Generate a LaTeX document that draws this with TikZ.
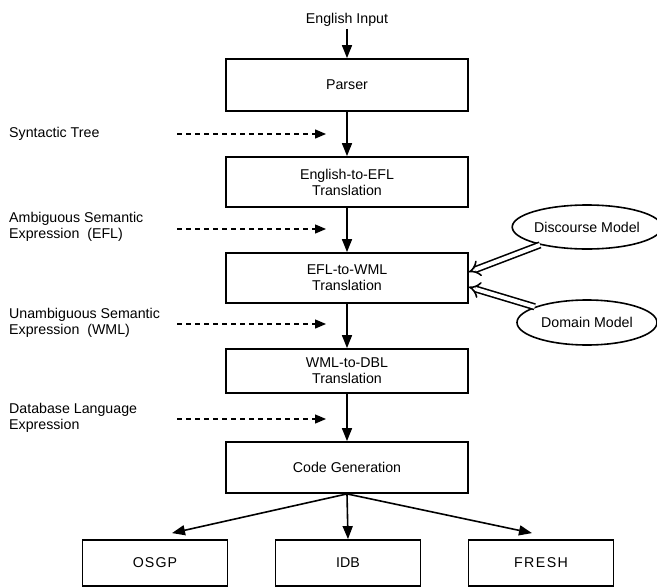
\documentclass[tikz,border=0pt]{standalone}
\usepackage{fontspec}
\setmainfont{Liberation Sans}
\usetikzlibrary{arrows.meta,shapes.geometric}
\begin{document}
\begin{tikzpicture}[x=1pt,y=-1pt,
  font=\fontsize{14.2}{16}\selectfont,
  box/.style={draw,line width=1.8pt,minimum width=242pt,align=center,inner sep=0pt},
  outbox/.style={draw,line width=1.8pt,minimum width=145pt,minimum height=46pt,align=center,inner sep=0pt},
  model/.style={draw,ellipse,line width=1.6pt,minimum width=140pt,inner sep=0pt},
  lab/.style={anchor=west,align=left,inner sep=0pt},
  flow/.style={line width=1.6pt,-{Triangle[length=13pt,width=10pt]}},
  dasharrow/.style={line width=1.3pt,dash pattern=on 5pt off 4pt,-{Triangle[length=11pt,width=9pt]}},
  dbl/.style={double,double distance=4pt,line width=1.6pt,-{Implies[scale=1.3]}}]
\useasboundingbox (0,0) rectangle (657,587);

% main pipeline
\node[inner sep=2pt] (in) at (347,20) {English Input};
\node[box,minimum height=52pt] (parser) at (347,85) {Parser};
\node[box,minimum height=50pt] (e2efl) at (347,182) {English-to-EFL\\Translation};
\node[box,minimum height=50pt] (efl2wml) at (347,278) {EFL-to-WML\\Translation};
\node[box,minimum height=44pt] (wml2dbl) at (347,371) {WML-to-DBL\\Translation};
\node[box,minimum height=51pt] (cg) at (347,467.5) {Code Generation};

\node[outbox] (osgp) at (155,563) {\addfontfeature{LetterSpace=8}OSGP};
\node[outbox] (idb) at (348,563) {IDB};
\node[outbox] (fresh) at (541,563) {\addfontfeature{LetterSpace=10}FRESH};

% models
\node[model,minimum height=44pt] (disc) at (587,227) {Discourse Model};
\node[model,minimum height=45pt] (dom) at (587,322.5) {Domain Model};

% left labels
\node[lab] (l1) at (9,134) {Syntactic Tree};
\node[lab] (l2) at (9,227) {Ambiguous Semantic\\Expression\ \ (EFL)};
\node[lab] (l3) at (9,323) {Unambiguous Semantic\\Expression\ \ (WML)};
\node[lab] (l4) at (9,418) {Database Language\\Expression};

% dashed arrows
\coordinate (d1s) at (177,134); \coordinate (d1e) at (326,134);
\coordinate (d2s) at (177,229); \coordinate (d2e) at (326,229);
\coordinate (d3s) at (177,324); \coordinate (d3e) at (326,324);
\coordinate (d4s) at (177,419); \coordinate (d4e) at (326,419);
\draw[dasharrow] (d1s) -- (d1e);
\draw[dasharrow] (d2s) -- (d2e);
\draw[dasharrow] (d3s) -- (d3e);
\draw[dasharrow] (d4s) -- (d4e);

% flow arrows
\draw[flow] (in) -- (parser);
\draw[flow] (parser) -- (e2efl);
\draw[flow] (e2efl) -- (efl2wml);
\draw[flow] (efl2wml) -- (wml2dbl);
\draw[flow] (wml2dbl) -- (cg);
\draw[flow] (cg.south) -- ([xshift=17pt,yshift=6pt]osgp.north);
\draw[flow] (cg.south) -- (idb.north);
\draw[flow] (cg.south) -- ([xshift=-9pt,yshift=6pt]fresh.north);

% model inputs
\coordinate (t1) at ([yshift=6pt]efl2wml.east);
\coordinate (t2) at ([yshift=-9pt]efl2wml.east);
\draw[dbl] (disc) -- (t1);
\draw[dbl] (dom) -- (t2);
\end{tikzpicture}
\end{document}
